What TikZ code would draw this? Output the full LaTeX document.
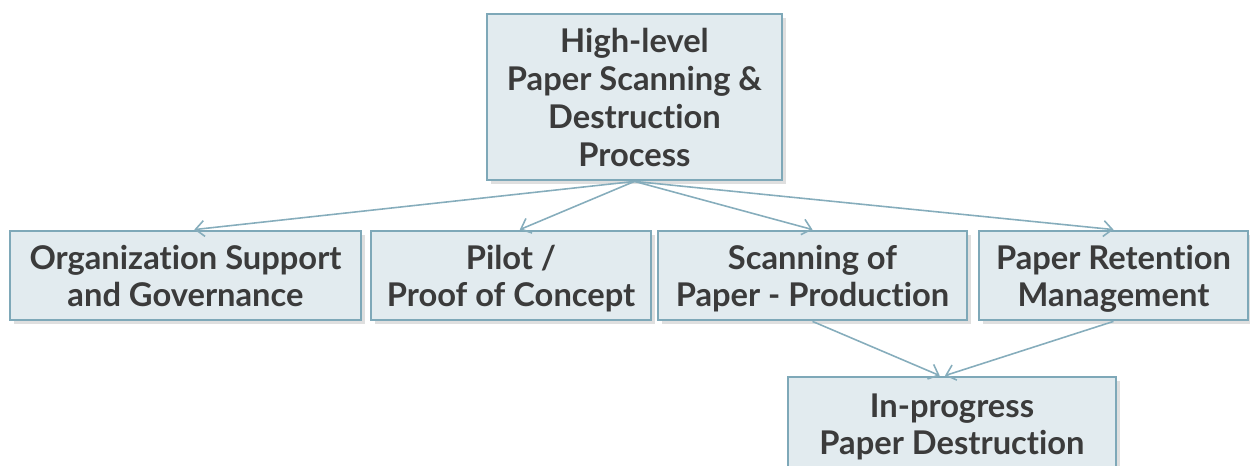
\documentclass[tikz,border=0pt]{standalone}
\usepackage{fontspec}
\setmainfont{Lato}[Ligatures={NoCommon,NoRare}]
\usepackage{xcolor}
\usetikzlibrary{positioning,arrows.meta,shadows}
\definecolor{boxfill}{HTML}{E2EBEF}
\definecolor{boxline}{HTML}{7EA8B8}
\definecolor{textgray}{HTML}{3B3B3B}
\definecolor{linkblue}{HTML}{86ADBC}
\newcommand{\topline}{\rule{0pt}{20.8pt}}

\begin{document}
\begin{tikzpicture}[
    x=0.02cm, y=-0.02cm,
    procbox/.style={rectangle, draw=boxline, line width=1.6pt, fill=boxfill,
        text=textgray, font=\bfseries\fontsize{18.6}{21.5}\selectfont, align=center,
        execute at end node=\strut,
        inner sep=0pt, drop shadow={opacity=0.25, shadow xshift=2pt, shadow yshift=-2pt}},
    link/.style={draw=linkblue, line width=0.9pt, -{Straight Barb[length=5pt, width=9pt]}},
    ]
    \useasboundingbox (0,0) rectangle (1250,466);
    %Nodes
    \node[procbox, minimum width=295*0.02cm, minimum height=166*0.02cm] (process) at (634.5,97)
        {\topline High-level\\Paper Scanning \&\\Destruction\\Process};
    \node[procbox, minimum width=351*0.02cm, minimum height=89*0.02cm] (governance) at (185.5,275.5)
        {\topline Organization Support\\and Governance};
    \node[procbox, minimum width=280*0.02cm, minimum height=89*0.02cm] (pilot) at (511,275.5)
        {\topline Pilot /\\Proof of Concept};
    \node[procbox, minimum width=309*0.02cm, minimum height=89*0.02cm] (scanning) at (812.5,275.5)
        {\topline Scanning of\\Paper - Production};
    \node[procbox, minimum width=269*0.02cm, minimum height=89*0.02cm] (retention) at (1113.5,275.5)
        {\topline Paper Retention\\Management};
    \node[procbox, minimum width=328*0.02cm, minimum height=93*0.02cm] (destruction) at (952,423.5)
        {\topline In-progress\\Paper Destruction};

    %Lines
    \draw[link] (process.south) -- ([xshift=5pt]governance.north);
    \draw[link] (process.south) -- ([xshift=5pt]pilot.north);
    \draw[link] (process.south) -- (scanning.north);
    \draw[link] (process.south) -- (retention.north);
    \draw[link] (scanning.south) -- ([xshift=-7pt]destruction.north);
    \draw[link] (retention.south) -- ([xshift=-4pt]destruction.north);
\end{tikzpicture}
\end{document}
